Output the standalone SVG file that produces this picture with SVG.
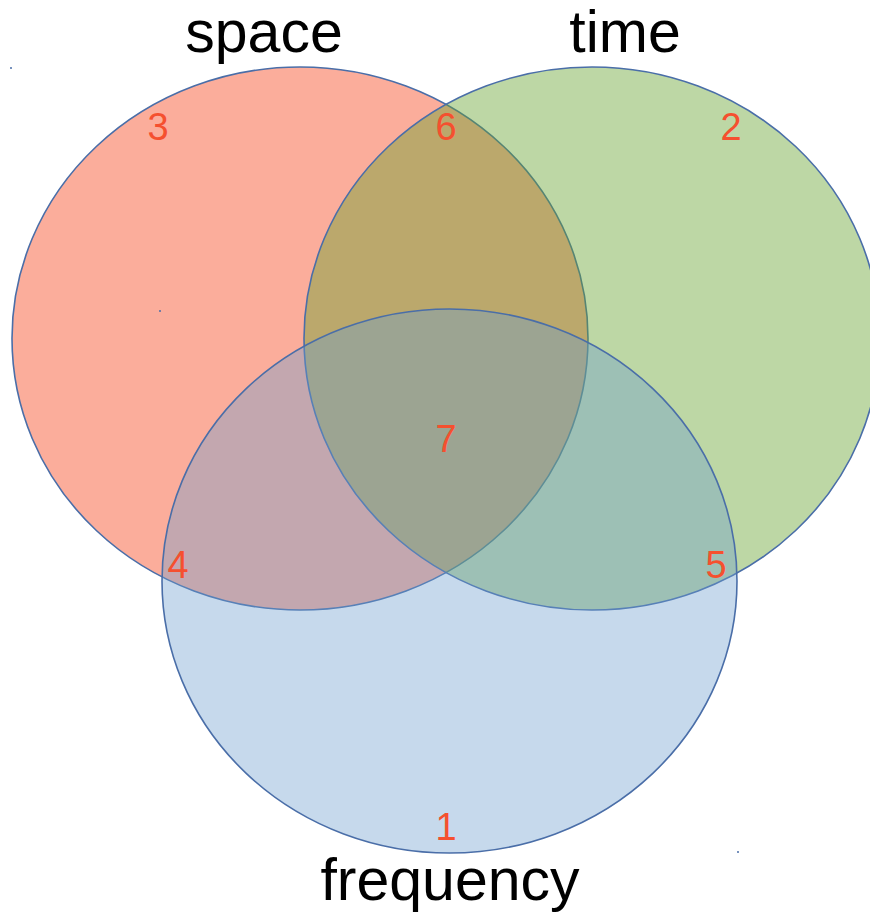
<svg xmlns="http://www.w3.org/2000/svg" width="870" height="912" viewBox="0 0 870 912">
<style>
.set{stroke:#4a6ea8;stroke-width:1.6}
.lbl{font-family:"Liberation Sans",Arial,sans-serif;font-size:59px;fill:#000;text-anchor:middle}
.num{font-family:"Liberation Sans",Arial,sans-serif;font-size:38px;fill:#f5502f;text-anchor:middle}
.dot{fill:#4a6ea8}
</style>
<rect width="870" height="912" fill="#fff"/>
<g id="space">
<ellipse class="set" cx="300" cy="338.5" rx="288" ry="271.5" fill="#f75b37" fill-opacity="0.5"/>
</g>
<g id="time">
<ellipse class="set" cx="592" cy="338.5" rx="288" ry="271.5" fill="#65a22e" fill-opacity="0.43"/>
</g>
<g id="frequency">
<ellipse class="set" cx="449.5" cy="581" rx="287.5" ry="272" fill="#6d9ece" fill-opacity="0.39"/>
</g>
<g id="labels">
<text class="lbl" x="264" y="52">space</text>
<text class="lbl" x="625" y="52">time</text>
<text class="lbl" x="450" y="900">frequency</text>
</g>
<g id="regions">
<text class="num" x="158" y="140">3</text>
<text class="num" x="446" y="140">6</text>
<text class="num" x="731" y="140">2</text>
<text class="num" x="446" y="452">7</text>
<text class="num" x="178" y="578">4</text>
<text class="num" x="716" y="578">5</text>
<text class="num" x="446" y="840">1</text>
</g>
<g id="connectors"></g>
<g id="dots">
<circle class="dot" cx="11" cy="68" r="1"/>
<circle class="dot" cx="160" cy="311" r="1"/>
<circle class="dot" cx="738" cy="852" r="1"/>
</g>
</svg>
